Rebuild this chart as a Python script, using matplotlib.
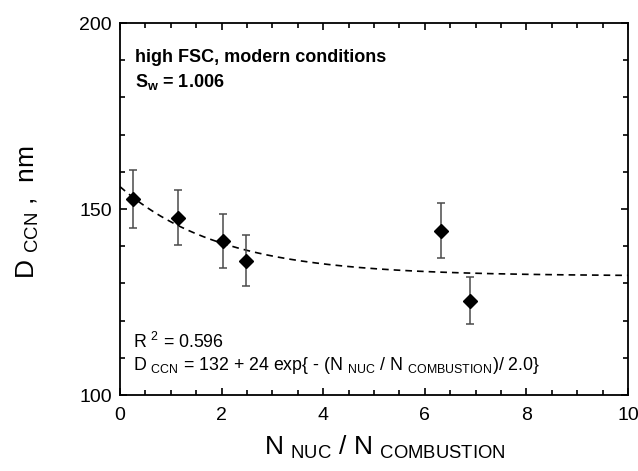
import numpy as np
import matplotlib
matplotlib.use('Agg')
import matplotlib.pyplot as plt
from matplotlib.ticker import MultipleLocator

# fonts: Arial look-alike, also for the sub/superscripts
plt.rcParams['font.family'] = 'Liberation Sans'
plt.rcParams['mathtext.fontset'] = 'custom'
plt.rcParams['mathtext.rm'] = 'Liberation Sans'
plt.rcParams['mathtext.it'] = 'Liberation Sans'
plt.rcParams['mathtext.bf'] = 'Liberation Sans:bold'

########
# DATA #
########

n_ratio = [0.26, 1.14, 2.03, 2.49, 6.31, 6.89]
d_ccn = [152.7, 147.6, 141.4, 136.1, 144.2, 125.4]
d_err = [7.8, 7.4, 7.2, 6.9, 7.3, 6.3]

# fit parameters as written on the chart
fit_a = 132
fit_b = 24
fit_t = 2.0

########
# PLOT #
########

fig = plt.figure(figsize=(6.38, 4.71), dpi=100)
ax = fig.add_axes([120/638, 1-395/471, 508/638, 372/471])

xfit = np.linspace(0, 10, 300)
ax.plot(xfit, fit_a + fit_b*np.exp(-xfit/fit_t), color='black', lw=1.2, dashes=(4, 3), zorder=2)

ax.errorbar(n_ratio, d_ccn, yerr=d_err, fmt='none', ecolor='#4a4a4a', elinewidth=1.1,
            capsize=3, capthick=1.1, zorder=3)
ax.plot(n_ratio, d_ccn, 'D', color='black', ms=7.5, zorder=4)

ax.set_xlim(0, 10)
ax.set_ylim(100, 200)
ax.xaxis.set_major_locator(MultipleLocator(2))
ax.xaxis.set_minor_locator(MultipleLocator(0.5))
ax.yaxis.set_major_locator(MultipleLocator(50))
ax.yaxis.set_minor_locator(MultipleLocator(10))
ax.tick_params(which='both', direction='in', top=True, right=True, width=1.2, labelsize=14)
ax.tick_params(which='major', length=5)
ax.tick_params(which='minor', length=3.5)
ax.tick_params(axis='x', pad=9)
ax.tick_params(axis='y', pad=6)
for s in ax.spines.values():
    s.set_linewidth(1.3)

ax.set_xlabel(r'N $_{\mathrm{NUC}}$ / N $_{\mathrm{COMBUSTION}}$', fontsize=19, labelpad=8)
ax.xaxis.set_label_coords(0.522, -0.105)
ax.set_ylabel(r'D $_{\mathrm{CCN}}$ ,  nm', fontsize=19)
ax.yaxis.set_label_coords(-0.155, 0.49)

ax.text(0.03, 0.895, 'high FSC, modern conditions', transform=ax.transAxes,
        fontsize=13, fontweight='bold', va='baseline')
ax.text(0.03, 0.828, r'S$_{\mathbf{w}}$ = 1.006', transform=ax.transAxes,
        fontsize=13, fontweight='bold', va='baseline')
ax.text(0.026, 0.126, r'R $^{2}$ = 0.596', transform=ax.transAxes, fontsize=12.8, va='baseline')
ax.text(0.026, 0.067, r'D $_{\mathrm{CCN}}$ = 132 + 24 exp{ - (N $_{\mathrm{NUC}}$ / N $_{\mathrm{COMBUSTION}}$)/ 2.0}',
        transform=ax.transAxes, fontsize=12.8, va='baseline')

fig.savefig('out.png', dpi=100)
